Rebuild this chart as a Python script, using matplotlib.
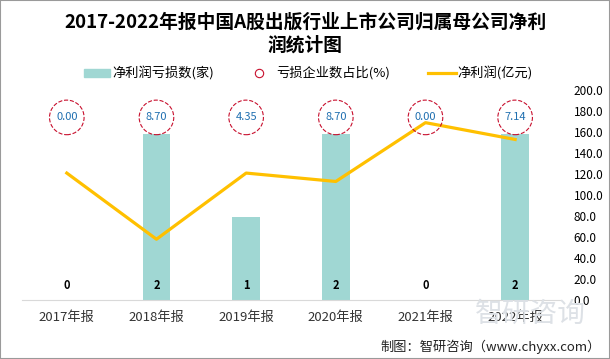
import numpy as np
import matplotlib.pyplot as plt
from matplotlib.patches import Rectangle

plt.rcParams['font.family'] = ['Noto Sans CJK SC', 'DejaVu Sans']

# 数据
years = ['2017年报', '2018年报', '2019年报', '2020年报', '2021年报', '2022年报']
loss_count = [0, 2, 1, 2, 0, 2]          # 净利润亏损数(家)
loss_ratio = [0.00, 8.70, 4.35, 8.70, 0.00, 7.14]  # 亏损企业数占比(%)
net_profit = [121, 58, 121, 113, 169, 153]  # 净利润(亿元)
right_ticks = np.arange(0, 201, 20)

fig = plt.figure(figsize=(6.1, 3.59), dpi=100)
fig.patches.append(Rectangle((0, 0), 1, 1, transform=fig.transFigure,
                             fill=False, edgecolor='#9a9a9a', linewidth=1.5))

ax = fig.add_axes([0.036, 0.164, 0.882, 0.585])
x = np.arange(len(years))

bars = ax.bar(x, loss_count, width=0.31, color='#a0d7d3', zorder=1)
ax.set_ylim(0, 2.53)
ax.set_xlim(-0.5, len(years) - 0.5)
ax.set_yticks([])
for s in ['left', 'right', 'top']:
    ax.spines[s].set_visible(False)
ax.spines['bottom'].set_color('#d9d9d9')
ax.set_xticks(x)
ax.set_xticklabels(years, fontsize=9.5, color='#333333')
ax.tick_params(axis='x', length=0, pad=8)
for xi, v in zip(x, loss_count):
    ax.text(xi, 0.1, str(v), ha='center', va='bottom', fontsize=8,
            fontweight='bold', color='black', zorder=5)

ax2 = ax.twinx()
ax2.plot(x, net_profit, color='#ffc000', linewidth=2.3, zorder=3)
circ_y = np.full(len(years), 174.0)
ax2.scatter(x, circ_y, s=620, facecolors='none', edgecolors='#c8102e',
            linestyles='--', linewidths=0.8, zorder=4)
for xi, yi, r in zip(x, circ_y, loss_ratio):
    ax2.text(xi, yi, f'{r:.2f}', ha='center', va='center', fontsize=8,
             color='#1f6fb0', zorder=5)
ax2.set_ylim(0, 200)
ax2.set_yticks(right_ticks)
ax2.set_yticklabels([f'{t:.1f}' for t in right_ticks], fontsize=8.5)
ax2.tick_params(axis='y', length=0, pad=10)
for s in ['left', 'right', 'top', 'bottom']:
    ax2.spines[s].set_visible(False)

# 标题
fig.text(0.5, 1 - 34 / 359, '2017-2022年报中国A股出版行业上市公司归属母公司净利\n润统计图',
         ha='center', va='center', fontsize=13.5, fontweight='bold',
         linespacing=1.25)

# 图例
ly = 1 - 73 / 359
fig.patches.append(Rectangle((84 / 610, ly - 0.012), 26 / 610, 0.024,
                             transform=fig.transFigure, color='#a0d7d3'))
fig.text(112 / 610, ly, '净利润亏损数(家)', ha='left', va='center', fontsize=9.5)
fig.lines.append(plt.Line2D([259 / 610], [ly], transform=fig.transFigure,
                            marker='o', markersize=6, markerfacecolor='none',
                            markeredgecolor='#c8102e', markeredgewidth=0.8,
                            linestyle='none'))
fig.text(276 / 610, ly, '亏损企业数占比(%)', ha='left', va='center', fontsize=9.5)
fig.lines.append(plt.Line2D([428 / 610, 456 / 610], [ly, ly],
                            transform=fig.transFigure, color='#ffc000',
                            linewidth=2.3))
fig.text(457 / 610, ly, '净利润(亿元)', ha='left', va='center', fontsize=9.5)

# 水印与来源
fig.text(0.87, 0.125, '智研咨询', ha='center', va='center', fontsize=20,
         color='#dde1e6', zorder=0)
fig.text(0.985, 0.035, '制图：智研咨询（www.chyxx.com）', ha='right',
         va='center', fontsize=9.5, color='#222222')

fig.savefig('out.png', dpi=100)
